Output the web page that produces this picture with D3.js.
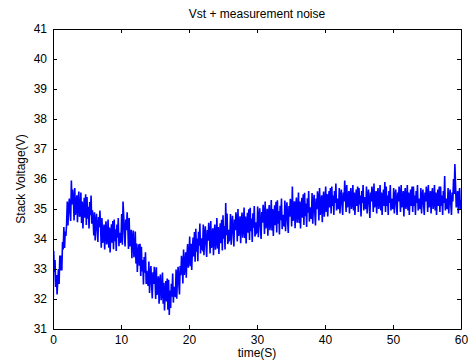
<!DOCTYPE html>
<html lang="en">
<head>
<meta charset="UTF-8">
<title>Vst + measurement noise</title>
<style>
    body { margin: 0; background: #fff; }
    svg { display: block; font-family: "Liberation Sans", Arial, sans-serif; }
    .axis text { font-size: 12px; fill: #000; }
    .axis path, .axis line { stroke: #000; }
</style>
</head>
<body>
<script src="https://cdn.jsdelivr.net/npm/d3@7"></script>
<script>

    // one sample every 0.1 s (t = index * sampleStep), one row per second
    var sampleStep = 0.1;
    var voltage = [
        31.0, 33.6, 32.9, 33.3, 32.4, 32.8, 32.15, 32.6, 33.0, 32.5,
        33.45, 32.95, 33.45, 32.95, 33.9, 33.65, 34.4, 33.7, 34.25, 34.1,
        34.5, 35.25, 34.45, 35.05, 35.35, 34.9, 34.6, 35.95, 35.15, 35.65,
        35.34, 34.62, 35.7, 34.8, 35.04, 35.46, 34.56, 35.28, 35.58, 34.74,
        34.83, 35.55, 34.53, 35.25, 34.35, 35.01, 35.37, 34.71, 35.49, 34.47,
        35.4, 34.68, 35.07, 34.35, 35.23, 34.79, 35.45, 34.51, 34.96, 34.62,
        34.12, 34.89, 33.95, 34.56, 34.84, 34.28, 33.9, 34.73, 34.39, 34.95,
        34.37, 33.71, 34.7, 33.87, 34.09, 34.48, 33.65, 34.32, 34.59, 33.82,
        33.99, 34.65, 33.71, 34.38, 33.55, 34.16, 34.49, 33.88, 34.6, 33.66,
        34.65, 33.93, 34.32, 33.6, 34.48, 34.04, 34.7, 33.76, 34.21, 33.87,
        33.99, 34.83, 33.81, 35.25, 34.77, 34.17, 33.75, 34.65, 34.29, 34.89,
        34.44, 33.67, 34.7, 33.75, 33.94, 34.31, 33.36, 34.03, 34.28, 33.39,
        33.58, 34.25, 33.18, 33.85, 32.9, 33.51, 33.82, 33.11, 33.84, 32.77,
        33.74, 32.92, 33.3, 32.48, 33.4, 32.88, 33.56, 32.5, 32.94, 32.54,
        32.44, 33.25, 32.2, 32.83, 33.1, 32.47, 32.02, 32.89, 32.5, 33.07,
        32.74, 32.0, 33.06, 32.14, 32.36, 32.76, 31.84, 32.54, 32.82, 31.96,
        32.18, 32.88, 31.84, 32.54, 31.62, 32.26, 32.6, 31.92, 32.68, 31.64,
        32.64, 31.47, 32.28, 31.7, 32.51, 32.08, 32.85, 31.88, 32.41, 32.1,
        32.09, 32.98, 32.01, 32.72, 33.07, 32.52, 32.15, 33.1, 32.79, 33.44,
        33.19, 32.52, 33.65, 32.8, 33.09, 33.56, 32.71, 33.48, 33.83, 33.04,
        33.33, 34.08, 33.09, 33.84, 32.97, 33.66, 34.05, 33.42, 34.23, 33.24,
        34.34, 33.58, 34.02, 33.26, 34.24, 33.78, 34.52, 33.52, 34.02, 33.68,
        33.64, 34.48, 33.46, 34.12, 34.42, 33.82, 33.4, 34.3, 33.94, 34.54,
        34.24, 33.52, 34.6, 33.7, 33.94, 34.36, 33.46, 34.18, 34.48, 33.64,
        33.98, 34.7, 33.68, 34.4, 33.5, 34.16, 34.52, 33.86, 34.64, 33.62,
        34.79, 34.01, 34.43, 33.65, 35.2, 34.13, 34.85, 33.83, 34.31, 33.95,
        33.99, 34.83, 33.81, 34.47, 34.77, 34.17, 33.75, 34.65, 34.29, 34.89,
        34.64, 33.92, 35.0, 34.1, 34.34, 34.76, 33.86, 34.58, 34.88, 34.04,
        34.33, 35.05, 34.03, 34.75, 33.85, 34.51, 34.87, 34.21, 34.99, 33.97,
        35.04, 34.26, 34.68, 33.9, 34.86, 34.38, 35.1, 34.08, 34.56, 34.2,
        34.24, 35.08, 34.06, 34.72, 35.02, 34.42, 34.0, 34.9, 34.54, 35.14,
        34.89, 34.17, 35.25, 34.35, 34.59, 35.01, 34.11, 34.83, 35.13, 34.29,
        34.58, 35.3, 34.28, 35.0, 34.1, 34.76, 35.12, 34.46, 35.24, 34.22,
        35.29, 34.51, 34.93, 34.15, 35.11, 34.63, 35.35, 34.33, 34.81, 34.45,
        34.44, 35.28, 34.26, 34.92, 35.22, 34.62, 34.2, 35.1, 34.74, 35.34,
        35.14, 34.42, 35.75, 34.6, 34.84, 35.26, 34.36, 35.08, 35.38, 34.54,
        34.83, 35.55, 34.53, 35.25, 34.35, 35.01, 35.37, 34.71, 35.49, 34.47,
        35.54, 34.76, 35.18, 34.4, 35.36, 34.88, 35.6, 34.58, 35.06, 34.7,
        34.69, 35.53, 34.51, 35.17, 35.47, 34.87, 34.45, 35.35, 34.99, 35.59,
        35.34, 34.62, 35.7, 34.8, 35.04, 35.46, 34.56, 35.28, 35.58, 34.74,
        35.15, 35.75, 34.9, 35.5, 34.75, 35.3, 35.6, 35.05, 35.7, 34.85,
        35.75, 35.1, 35.45, 34.8, 35.6, 35.2, 35.85, 34.95, 35.35, 35.05,
        35.0, 35.7, 34.85, 35.4, 35.65, 35.15, 34.8, 35.55, 35.25, 35.95,
        35.5, 34.9, 35.8, 35.05, 35.25, 35.6, 34.85, 35.45, 35.7, 35.0,
        35.2, 35.8, 34.95, 35.55, 34.8, 35.35, 35.65, 35.1, 35.75, 34.9,
        35.7, 35.15, 35.45, 34.75, 35.6, 35.2, 35.8, 34.95, 35.4, 35.05,
        35.0, 35.75, 34.85, 35.4, 35.65, 35.15, 34.7, 35.55, 35.25, 35.75,
        35.5, 34.9, 35.85, 35.05, 35.25, 35.6, 34.85, 35.45, 35.7, 35.0,
        35.2, 35.8, 34.95, 35.55, 34.8, 35.35, 35.65, 35.1, 35.9, 34.9,
        35.75, 35.1, 35.45, 34.8, 35.6, 35.2, 35.8, 34.95, 35.35, 35.05,
        35.0, 35.7, 34.85, 35.4, 35.65, 35.15, 34.8, 35.55, 35.25, 35.75,
        35.5, 34.9, 35.8, 35.05, 35.25, 35.6, 34.75, 35.45, 35.7, 35.0,
        35.2, 35.8, 34.95, 35.55, 34.8, 35.35, 35.65, 35.1, 35.75, 34.9,
        35.75, 35.1, 35.45, 34.8, 35.6, 35.2, 35.8, 34.95, 35.35, 35.05,
        35.0, 35.7, 34.85, 35.4, 35.65, 35.15, 34.8, 35.55, 35.25, 35.75,
        35.5, 34.9, 35.8, 35.05, 35.25, 35.6, 34.85, 35.45, 35.7, 35.0,
        35.2, 35.8, 34.95, 35.55, 34.8, 35.35, 35.65, 35.1, 35.75, 34.9,
        35.75, 35.1, 35.45, 34.8, 35.6, 35.2, 36.1, 34.95, 35.35, 35.05,
        35.0, 35.7, 34.85, 35.4, 35.65, 35.15, 34.8, 35.55, 35.25, 36.0,
        35.5, 36.5, 35.8, 35.05, 35.25, 35.6, 34.85, 35.45, 35.7, 35.0,
        35.3
    ];

    var xTicks = [0, 10, 20, 30, 40, 50, 60];
    var yTicks = [31, 32, 33, 34, 35, 36, 37, 38, 39, 40, 41];

    var title = 'Vst + measurement noise',
        xLabel = 'time(S)',
        yLabel = 'Stack Voltage(V)';

    var width = 471,
        height = 362,
        margin = {top: 29, right: 10, bottom: 33, left: 53};

    var x = d3.scaleLinear()
        .domain([0, 60])
        .range([margin.left, width - margin.right]);

    var y = d3.scaleLinear()
        .domain([31, 41])
        .range([height - margin.bottom, margin.top]);

    var svg = d3.select('body').append('svg')
        .attr('width', width)
        .attr('height', height);

    svg.append('clipPath')
        .attr('id', 'plot-area')
        .append('rect')
        .attr('x', x(0))
        .attr('y', y(41))
        .attr('width', x(60) - x(0))
        .attr('height', y(31) - y(41));

    var line = d3.line()
        .x((d, i) => x(i * sampleStep))
        .y(d => y(d));

    svg.append('path')
        .datum(voltage)
        .attr('clip-path', 'url(#plot-area)')
        .attr('fill', 'none')
        .attr('stroke', '#0000ff')
        .attr('stroke-width', 1.6)
        .attr('d', line);

    // matlab style box: ticks inside, mirrored on top and right
    svg.append('g')
        .attr('class', 'axis')
        .attr('transform', 'translate(0,' + y(31) + ')')
        .call(d3.axisBottom(x).tickValues(xTicks).tickSizeInner(-4).tickSizeOuter(0).tickPadding(6));

    svg.append('g')
        .attr('class', 'axis')
        .attr('transform', 'translate(0,' + y(41) + ')')
        .call(d3.axisTop(x).tickValues(xTicks).tickSizeInner(-4).tickSizeOuter(0).tickFormat(''));

    svg.append('g')
        .attr('class', 'axis')
        .attr('transform', 'translate(' + x(0) + ',0)')
        .call(d3.axisLeft(y).tickValues(yTicks).tickSizeInner(-4).tickSizeOuter(0).tickPadding(6));

    svg.append('g')
        .attr('class', 'axis')
        .attr('transform', 'translate(' + x(60) + ',0)')
        .call(d3.axisRight(y).tickValues(yTicks).tickSizeInner(-4).tickSizeOuter(0).tickFormat(''));

    svg.append('text')
        .attr('x', (x(0) + x(60)) / 2)
        .attr('y', 18)
        .attr('text-anchor', 'middle')
        .attr('font-size', 12)
        .text(title);

    svg.append('text')
        .attr('x', (x(0) + x(60)) / 2)
        .attr('y', 357)
        .attr('text-anchor', 'middle')
        .attr('font-size', 12)
        .text(xLabel);

    svg.append('text')
        .attr('transform', 'translate(25,' + (y(31) + y(41)) / 2 + ') rotate(-90)')
        .attr('text-anchor', 'middle')
        .attr('font-size', 12)
        .text(yLabel);

</script>
</body>
</html>
